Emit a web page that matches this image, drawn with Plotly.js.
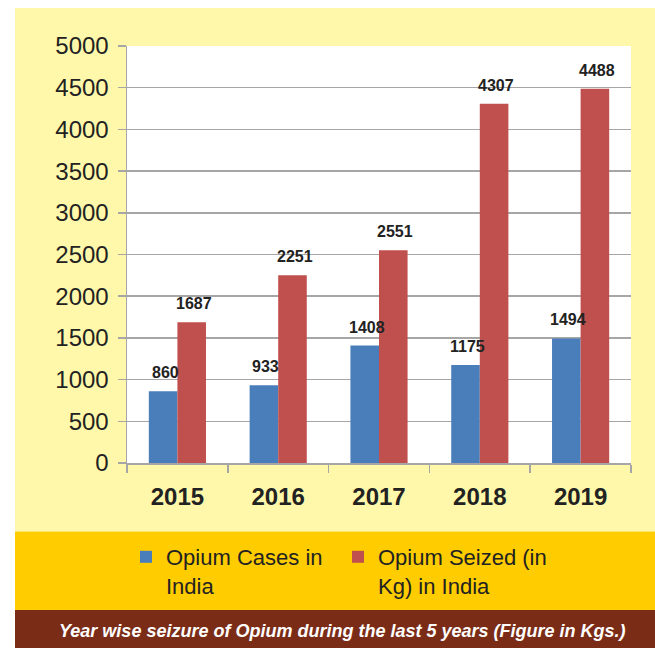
<!DOCTYPE html>
<html>
<head>
<meta charset="utf-8">
<script src="https://cdn.plot.ly/plotly-3.0.1.min.js"></script>
<style>
  html, body { margin: 0; padding: 0; background: #ffffff; }
  #chart { width: 655px; height: 648px; }
</style>
</head>
<body>
<div id="chart"></div>
<script>
const years = ['2015', '2016', '2017', '2018', '2019'];
const opiumCases = [860, 933, 1408, 1175, 1494];
const opiumSeized = [1687, 2251, 2551, 4307, 4488];
const seriesNames = ['Opium Cases in<br>India', 'Opium Seized (in<br>Kg) in India'];
const yTicks = [0, 500, 1000, 1500, 2000, 2500, 3000, 3500, 4000, 4500, 5000];
const bannerText = 'Year wise seizure of Opium during the last 5 years (Figure in Kgs.)';

const BLUE = '#4A7EBB';
const RED = '#C0504D';
const FONT = 'Liberation Sans, Arial, sans-serif';

const traces = [
  { type: 'bar', name: seriesNames[0], x: years, y: opiumCases,
    marker: { color: BLUE, line: { width: 0 } }, hoverinfo: 'skip' },
  { type: 'bar', name: seriesNames[1], x: years, y: opiumSeized,
    marker: { color: RED, line: { width: 0 } }, hoverinfo: 'skip' }
];

// value labels above bars (x given as category index so the category axis maps it)
const annotations = [];
const barShift = 14.3;
const labelFont = { family: FONT, size: 16, color: '#222222', weight: 'bold' };
years.forEach((yr, i) => {
  annotations.push({ x: i, y: opiumCases[i], xref: 'x', yref: 'y', text: String(opiumCases[i]),
    showarrow: false, xanchor: 'center', yanchor: 'bottom', xshift: -barShift + 2, yshift: 8, font: labelFont });
  annotations.push({ x: i, y: opiumSeized[i], xref: 'x', yref: 'y', text: String(opiumSeized[i]),
    showarrow: false, xanchor: 'center', yanchor: 'bottom', xshift: barShift + 2, yshift: 8, font: labelFont });
});

// plot area in pixels: x 127..631, y 46..463
const L = 127, R = 631, T = 46, B = 463;
const px = v => (v - L) / (R - L);
const py = v => (B - v) / (B - T);

annotations.push({ x: px(342), y: py(631), xref: 'paper', yref: 'paper', text: '<b><i>' + bannerText + '</i></b>',
  showarrow: false, xanchor: 'center', yanchor: 'middle',
  font: { family: FONT, size: 18, color: '#ffffff' } });

const shapes = [
  { type: 'rect', xref: 'paper', yref: 'paper', x0: px(15), x1: px(660), y0: py(531.5), y1: py(8),
    fillcolor: '#FFF8AA', line: { width: 0 }, layer: 'below' },
  { type: 'rect', xref: 'paper', yref: 'paper', x0: px(15), x1: px(660), y0: py(610), y1: py(531.5),
    fillcolor: '#FFCC00', line: { width: 0 }, layer: 'below' },
  { type: 'rect', xref: 'paper', yref: 'paper', x0: px(15), x1: px(660), y0: py(652), y1: py(610),
    fillcolor: '#7B2C17', line: { width: 0 }, layer: 'below' },
  { type: 'rect', xref: 'paper', yref: 'paper', x0: 0, x1: 1, y0: 0, y1: 1,
    fillcolor: '#ffffff', line: { width: 0 }, layer: 'below' }
];

const layout = {
  width: 655, height: 648,
  margin: { l: L, r: 655 - R, t: T, b: 648 - B, pad: 0 },
  paper_bgcolor: '#ffffff',
  plot_bgcolor: 'rgba(0,0,0,0)',
  barmode: 'group',
  bargap: 0.433,
  bargroupgap: 0,
  showlegend: true,
  legend: {
    orientation: 'h', x: px(126), xanchor: 'left', y: py(536), yanchor: 'top',
    bgcolor: 'rgba(0,0,0,0)', borderwidth: 0, valign: 'top',
    entrywidth: 167,
    font: { family: FONT, size: 22, color: '#222222' },
    traceorder: 'normal'
  },
  xaxis: {
    type: 'category',
    showgrid: false,
    showline: true, linecolor: '#A6A6A6', linewidth: 1.5,
    ticks: 'outside', tickson: 'boundaries', ticklen: 8, tickcolor: '#A6A6A6', tickwidth: 1.5,
    ticklabelstandoff: 12,
    tickfont: { family: FONT, size: 24, color: '#222222', weight: 'bold' },
    fixedrange: true
  },
  yaxis: {
    range: [0, 5000],
    tickvals: yTicks,
    ticktext: yTicks.map(String),
    showgrid: true, gridcolor: '#A6A6A6', gridwidth: 1.5,
    zeroline: false,
    showline: true, linecolor: '#A6A6A6', linewidth: 1.5,
    ticks: 'outside', ticklen: 8, tickcolor: '#A6A6A6', tickwidth: 1.5,
    ticklabelstandoff: 4,
    tickfont: { family: FONT, size: 24, color: '#222222' },
    fixedrange: true
  },
  shapes: shapes,
  annotations: annotations
};

Plotly.newPlot('chart', traces, layout, { displayModeBar: false, staticPlot: true });
</script>
</body>
</html>
